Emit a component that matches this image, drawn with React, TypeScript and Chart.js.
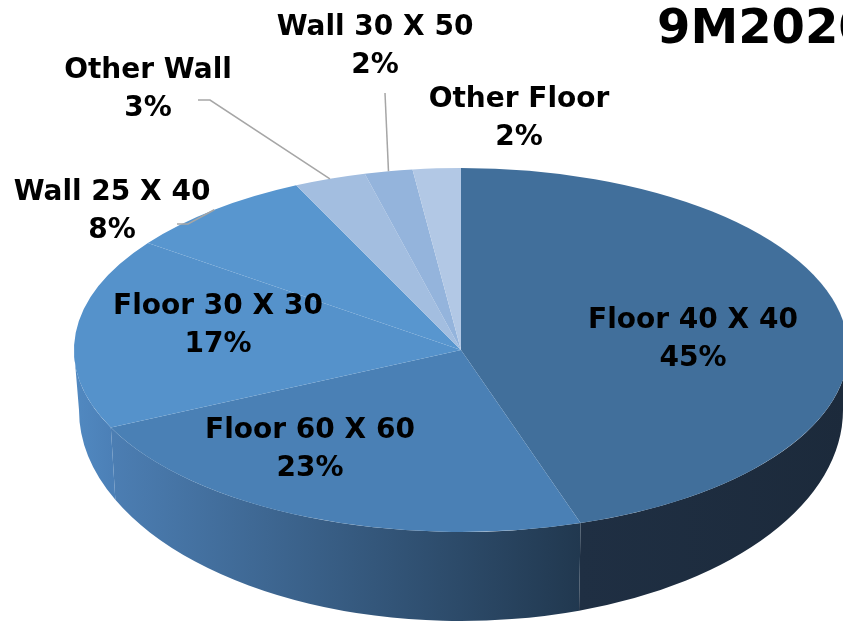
import React, { useEffect, useRef } from 'react';
import { Chart, registerables } from 'chart.js';

Chart.register(...registerables);

// ---- data ----
const CATEGORIES = ['Floor 40 X 40', 'Floor 60 X 60', 'Floor 30 X 30', 'Wall 25 X 40', 'Other Wall', 'Wall 30 X 50', 'Other Floor'];
const SHARES = [45, 23, 17, 8, 3, 2, 2];
const TITLE = '9M2020';

// ---- styles ----
const TOP_COLORS = ['#416f9b', '#4a80b5', '#5592cb', '#5896cf', '#a3bee0', '#94b4dc', '#b2c8e5'];
const SIDE_COLORS: [string, string][] = [
  ['#1f2f43', '#1c2a3b'],
  ['#4c7eb3', '#21384f'],
  ['#5189c1', '#4c80b7'],
  ['#4f86bd', '#4a7db3'],
  ['#8aa7cc', '#8aa7cc'],
  ['#8aa7cc', '#8aa7cc'],
  ['#a0b6d3', '#a0b6d3'],
];

const W = 843;
const H = 624;
const GEO = { cx: 461, cy: 350, rx: 387, ry: 182, depthSide: 60, depthFront: 89, rxShrink: 5 };
const FONT = '"DejaVu Sans", Verdana, sans-serif';

// label block centres (offset from pie centre) and leader geometry
const LABEL_LAYOUT: { dx: number; dy: number; leader?: [number, number][] }[] = [
  { dx: 232, dy: -13 },
  { dx: -151, dy: 97 },
  { dx: -243, dy: -27 },
  { dx: -349, dy: -141, leader: [[-273, -126], [-284, -126]] },
  { dx: -313, dy: -263, leader: [[-251, -250], [-263, -250]] },
  { dx: -86, dy: -306, leader: [[-76, -257]] },
  { dx: 58, dy: -234 },
];

const pie3d = {
  id: 'pie3d',
  beforeDatasetsDraw(chart: any) {
    const ctx: CanvasRenderingContext2D = chart.ctx;
    const arcs = chart.getDatasetMeta(0).data as any[];
    if (!arcs.length) return;
    const { cx, cy, rx, ry, depthSide, depthFront, rxShrink } = GEO;
    const ryb = ry + depthFront - depthSide;
    const rxb = rx - rxShrink;
    arcs.forEach((arc: any, i: number) => {
      const a1 = Math.max(arc.startAngle, 0);
      const a2 = Math.min(arc.endAngle, Math.PI);
      if (a2 <= a1) return;
      const xa = cx + rx * Math.cos(a1);
      const xb = cx + rx * Math.cos(a2);
      const g = ctx.createLinearGradient(Math.min(xa, xb), 0, Math.max(xa, xb) + 0.01, 0);
      g.addColorStop(0, SIDE_COLORS[i][0]);
      g.addColorStop(1, SIDE_COLORS[i][1]);
      ctx.save();
      ctx.beginPath();
      ctx.ellipse(cx, cy, rx, ry, 0, a1, a2, false);
      ctx.ellipse(cx, cy + depthSide, rxb, ryb, 0, a2, a1, true);
      ctx.closePath();
      ctx.fillStyle = g;
      ctx.fill();
      ctx.restore();
    });
    const { x: ox, y: oy, outerRadius: R } = arcs[0];
    ctx.save();
    ctx.translate(cx, cy);
    ctx.scale(rx / R, ry / R);
    ctx.translate(-ox, -oy);
  },
  afterDatasetsDraw(chart: any) {
    const arcs = chart.getDatasetMeta(0).data as any[];
    if (!arcs.length) return;
    chart.ctx.restore();
  },
  afterDraw(chart: any) {
    const ctx: CanvasRenderingContext2D = chart.ctx;
    const arcs = chart.getDatasetMeta(0).data as any[];
    const { cx, cy, rx, ry } = GEO;
    const total = SHARES.reduce((a, b) => a + b, 0);
    ctx.save();
    // leaders
    ctx.strokeStyle = '#a6a6a6';
    ctx.lineWidth = 1.5;
    arcs.forEach((arc: any, i: number) => {
      const lay = LABEL_LAYOUT[i];
      if (!lay.leader) return;
      const mid = (arc.startAngle + arc.endAngle) / 2;
      ctx.beginPath();
      ctx.moveTo(cx + rx * Math.cos(mid), cy + ry * Math.sin(mid));
      lay.leader.forEach(([dx, dy]) => ctx.lineTo(cx + dx, cy + dy));
      ctx.stroke();
    });
    // labels
    ctx.fillStyle = '#000';
    ctx.textAlign = 'center';
    ctx.textBaseline = 'alphabetic';
    ctx.font = `bold 28px ${FONT}`;
    arcs.forEach((_arc: any, i: number) => {
      const lay = LABEL_LAYOUT[i];
      const x = cx + lay.dx;
      const y = cy + lay.dy;
      const pct = Math.round((SHARES[i] / total) * 100) + '%';
      ctx.fillText(CATEGORIES[i], x, y - 19 + 10);
      ctx.fillText(pct, x, y + 19 + 10);
    });
    // title
    ctx.textAlign = 'left';
    ctx.font = `bold 48px ${FONT}`;
    ctx.fillText(TITLE, 657, 43);
    ctx.restore();
  },
};

export default function App() {
  const ref = useRef<HTMLCanvasElement>(null);
  useEffect(() => {
    if (!ref.current) return;
    const chart = new Chart(ref.current, {
      type: 'pie',
      data: {
        labels: CATEGORIES,
        datasets: [
          {
            data: SHARES,
            backgroundColor: TOP_COLORS,
            borderWidth: 0,
          },
        ],
      },
      options: {
        responsive: false,
        animation: false,
        events: [],
        layout: { padding: 0 },
        plugins: {
          legend: { display: false },
          tooltip: { enabled: false },
          title: { display: false },
        },
      },
      plugins: [pie3d],
    });
    return () => chart.destroy();
  }, []);
  return (
    <div style={{ position: 'fixed', left: 0, top: 0, width: W, height: H, background: '#fff' }}>
      <canvas ref={ref} width={W} height={H} style={{ display: 'block', width: W, height: H }} />
    </div>
  );
}
